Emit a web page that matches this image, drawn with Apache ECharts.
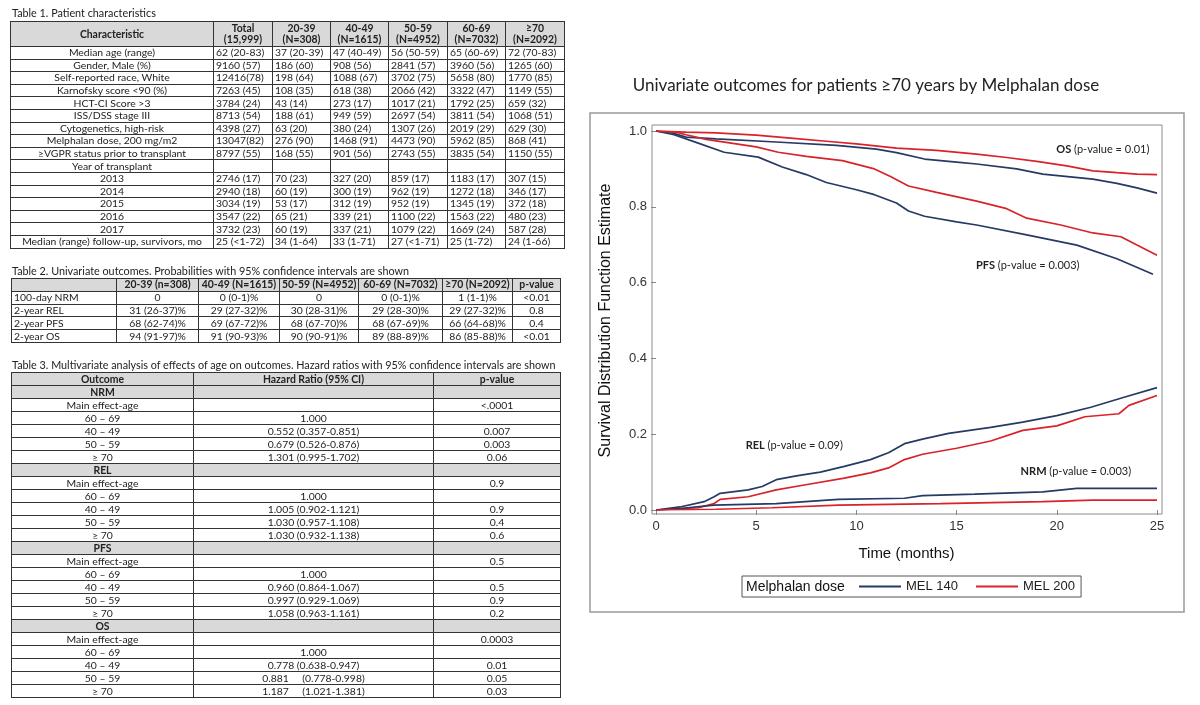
<!DOCTYPE html>
<html>
<head>
<meta charset="utf-8">
<script src="https://cdn.jsdelivr.net/npm/echarts@6/dist/echarts.min.js"></script>
<style>
  html, body { margin: 0; padding: 0; background: #fff; }
  #chart { position: absolute; left: 0; top: 0; width: 1200px; height: 705px; }
  .cap { position: absolute; left: 12px; font: 10.8px Lato, sans-serif; color: #222; white-space: nowrap; z-index: 2; }
  table { position: absolute; border-collapse: collapse; table-layout: fixed; font: 10.4px Lato, sans-serif; color: #222; z-index: 2; background: #fff; }
  td { border: 1px solid #333; padding: 0 2px; line-height: 11px; white-space: pre; overflow: hidden; text-align: center; }
  td.l { text-align: left; }
  tr.g td { background: #d9d9d9; font-weight: bold; }
  #t1 td { height: 11.6px; }
  #t1 tr.g td { height: 24px; }
  #t2 td { height: 11.8px; }
  #t3 td { height: 12px; }
</style>
</head>
<body>
<div id="chart"></div>
<div class="cap" style="top:6px">Table 1. Patient characteristics</div>
<table id="t1" style="left:10px;top:21px;width:554px"></table>
<div class="cap" style="top:264px">Table 2. Univariate outcomes. Probabilities with 95% confidence intervals are shown</div>
<table id="t2" style="left:11px;top:278px;width:549px"></table>
<div class="cap" style="top:358px">Table 3. Multivariate analysis of effects of age on outcomes. Hazard ratios with 95% confidence intervals are shown</div>
<table id="t3" style="left:11px;top:372px;width:549px"></table>
<script>
// ---- tables ----
const t1Widths = [203, 59, 58, 58, 59, 58, 59];
const t1Head = ['Characteristic', 'Total\n(15,999)', '20-39\n(N=308)', '40-49\n(N=1615)', '50-59\n(N=4952)', '60-69\n(N=7032)', '≥70\n(N=2092)'];
const t1Rows = [
  ['Median age (range)', '62 (20-83)', '37 (20-39)', '47 (40-49)', '56 (50-59)', '65 (60-69)', '72 (70-83)'],
  ['Gender, Male (%)', '9160 (57)', '186 (60)', '908 (56)', '2841 (57)', '3960 (56)', '1265 (60)'],
  ['Self-reported race, White', '12416(78)', '198 (64)', '1088 (67)', '3702 (75)', '5658 (80)', '1770 (85)'],
  ['Karnofsky score <90 (%)', '7263 (45)', '108 (35)', '618 (38)', '2066 (42)', '3322 (47)', '1149 (55)'],
  ['HCT-CI Score >3', '3784 (24)', '43 (14)', '273 (17)', '1017 (21)', '1792 (25)', '659 (32)'],
  ['ISS/DSS stage III', '8713 (54)', '188 (61)', '949 (59)', '2697 (54)', '3811 (54)', '1068 (51)'],
  ['Cytogenetics, high-risk', '4398 (27)', '63 (20)', '380 (24)', '1307 (26)', '2019 (29)', '629 (30)'],
  ['Melphalan dose, 200 mg/m2', '13047(82)', '276 (90)', '1468 (91)', '4473 (90)', '5962 (85)', '868 (41)'],
  ['≥VGPR status prior to transplant', '8797 (55)', '168 (55)', '901 (56)', '2743 (55)', '3835 (54)', '1150 (55)'],
  ['Year of transplant', '', '', '', '', '', ''],
  ['2013', '2746 (17)', '70 (23)', '327 (20)', '859 (17)', '1183 (17)', '307 (15)'],
  ['2014', '2940 (18)', '60 (19)', '300 (19)', '962 (19)', '1272 (18)', '346 (17)'],
  ['2015', '3034 (19)', '53 (17)', '312 (19)', '952 (19)', '1345 (19)', '372 (18)'],
  ['2016', '3547 (22)', '65 (21)', '339 (21)', '1100 (22)', '1563 (22)', '480 (23)'],
  ['2017', '3732 (23)', '60 (19)', '337 (21)', '1079 (22)', '1669 (24)', '587 (28)'],
  ['Median (range) follow-up, survivors, mo', '25 (<1-72)', '34 (1-64)', '33 (1-71)', '27 (<1-71)', '25 (1-72)', '24 (1-66)']
];

const t2Widths = [105, 82, 81, 79, 84, 70, 48];
const t2Head = ['', '20-39 (n=308)', '40-49 (N=1615)', '50-59 (N=4952)', '60-69 (N=7032)', '≥70 (N=2092)', 'p-value'];
const t2Rows = [
  ['100-day NRM', '0', '0 (0-1)%', '0', '0 (0-1)%', '1 (1-1)%', '<0.01'],
  ['2-year REL', '31 (26-37)%', '29 (27-32)%', '30 (28-31)%', '29 (28-30)%', '29 (27-32)%', '0.8'],
  ['2-year PFS', '68 (62-74)%', '69 (67-72)%', '68 (67-70)%', '68 (67-69)%', '66 (64-68)%', '0.4'],
  ['2-year OS', '94 (91-97)%', '91 (90-93)%', '90 (90-91)%', '89 (88-89)%', '86 (85-88)%', '<0.01']
];

const t3Widths = [182, 240, 127];
const t3Head = ['Outcome', 'Hazard Ratio (95% CI)', 'p-value'];
const t3Groups = ['NRM', 'REL', 'PFS', 'OS'];
const t3Levels = ['Main effect-age', '60 – 69', '40 – 49', '50 – 59', '≥ 70'];
const t3Hr = [
  ['', '1.000', '0.552 (0.357-0.851)', '0.679 (0.526-0.876)', '1.301 (0.995-1.702)'],
  ['', '1.000', '1.005 (0.902-1.121)', '1.030 (0.957-1.108)', '1.030 (0.932-1.138)'],
  ['', '1.000', '0.960 (0.864-1.067)', '0.997 (0.929-1.069)', '1.058 (0.963-1.161)'],
  ['', '1.000', '0.778 (0.638-0.947)', '0.881     (0.778-0.998)', '1.187     (1.021-1.381)']
];
const t3P = [
  ['<.0001', '', '0.007', '0.003', '0.06'],
  ['0.9', '', '0.9', '0.4', '0.6'],
  ['0.5', '', '0.5', '0.9', '0.2'],
  ['0.0003', '', '0.01', '0.05', '0.03']
];

function colgroup(tbl, widths) {
  const cg = document.createElement('colgroup');
  widths.forEach(w => { const c = document.createElement('col'); c.style.width = w + 'px'; cg.appendChild(c); });
  tbl.appendChild(cg);
}
function addRow(tbl, cells, cls, aligns) {
  const tr = document.createElement('tr');
  if (cls) tr.className = cls;
  cells.forEach((txt, i) => {
    const td = document.createElement('td');
    td.textContent = txt;
    if (aligns && aligns[i]) td.className = aligns[i];
    tr.appendChild(td);
  });
  tbl.appendChild(tr);
}

const t1 = document.getElementById('t1');
colgroup(t1, t1Widths);
addRow(t1, t1Head, 'g');
t1Rows.forEach(r => addRow(t1, r, '', ['', 'l', 'l', 'l', 'l', 'l', 'l']));

const t2 = document.getElementById('t2');
colgroup(t2, t2Widths);
addRow(t2, t2Head, 'g');
t2Rows.forEach(r => addRow(t2, r, '', ['l']));

const t3 = document.getElementById('t3');
colgroup(t3, t3Widths);
addRow(t3, t3Head, 'g');
t3Groups.forEach((g, gi) => {
  addRow(t3, [g, '', ''], 'g');
  t3Levels.forEach((lv, li) => addRow(t3, [lv, t3Hr[gi][li], t3P[gi][li]]));
});

// ---- chart data: [months, estimate] ----
const osMel140 = [[0,1],[0.8,0.995],[1.5,0.984],[3,0.979],[6,0.971],[9,0.962],[11,0.952],[12,0.943],[13.4,0.926],[15,0.918],[16,0.913],[18,0.9],[19.3,0.886],[21.8,0.873],[23,0.862],[24,0.85],[25,0.836]];
const osMel200 = [[0,1],[1.5,0.997],[3,0.995],[5,0.989],[7,0.98],[8.5,0.973],[10,0.966],[12,0.955],[14,0.949],[16,0.939],[17.5,0.93],[19,0.92],[20.5,0.908],[21.8,0.895],[23,0.89],[24,0.886],[25,0.885]];
const pfsMel140 = [[0,1],[0.9,0.99],[2,0.97],[3.4,0.944],[5.1,0.931],[6.3,0.905],[7.5,0.885],[8.5,0.864],[10,0.845],[10.9,0.832],[12,0.81],[12.6,0.789],[13.4,0.775],[15,0.76],[16,0.752],[18.5,0.726],[21,0.699],[23,0.663],[24.8,0.622]];
const pfsMel200 = [[0,1],[1,0.997],[1.5,0.99],[2.5,0.978],[3.5,0.97],[5,0.958],[6.1,0.944],[7.5,0.933],[9.3,0.922],[10.9,0.9],[11.7,0.88],[12.6,0.855],[14,0.838],[16,0.815],[17.5,0.795],[18.5,0.77],[20.2,0.752],[21.8,0.731],[23.2,0.721],[24,0.699],[25,0.672]];
const relMel140 = [[0,0],[1.2,0.008],[2.4,0.022],[2.9,0.035],[3.2,0.044],[4.6,0.053],[5.3,0.062],[6,0.08],[7,0.09],[8.2,0.1],[9.4,0.115],[10.7,0.133],[11.6,0.151],[12.4,0.175],[13.3,0.187],[14.6,0.202],[16.7,0.218],[18.3,0.232],[20,0.249],[21.7,0.271],[23.4,0.298],[25,0.323]];
const relMel200 = [[0,0],[2.1,0.006],[2.9,0.017],[3.2,0.028],[4.6,0.035],[6,0.053],[7.4,0.066],[9.4,0.084],[10.7,0.098],[11.6,0.111],[12.4,0.133],[13.3,0.147],[15,0.163],[16.7,0.182],[18.3,0.21],[20,0.222],[21.4,0.246],[23.1,0.254],[23.6,0.276],[25,0.302]];
const nrmMel140 = [[0,0],[1.2,0.004],[2.9,0.013],[6,0.017],[9.1,0.028],[12.4,0.031],[13.3,0.038],[15.9,0.042],[19.3,0.048],[21,0.057],[25,0.057]];
const nrmMel200 = [[0,0],[3,0.002],[5.8,0.006],[9.1,0.013],[14.2,0.017],[19.3,0.022],[21.8,0.026],[25,0.026]];

const xTicks = [0, 5, 10, 15, 20, 25];
const yTicks = [0, 0.2, 0.4, 0.6, 0.8, 1.0];

// curve labels: [bold part, rest, months, estimate]
const curveNotes = [
  ['OS', ' (p-value = 0.01)', 22.3, 0.952],
  ['PFS', ' (p-value = 0.003)', 18.55, 0.646],
  ['REL', ' (p-value = 0.09)', 6.9, 0.169],
  ['NRM', ' (p-value = 0.003)', 20.95, 0.102]
];

const blue = '#253a64';
const red = '#d9232b';
const axisFont = 'Liberation Sans';

function line(name, data, color, note) {
  const s = {
    name: name,
    type: 'line',
    data: data,
    showSymbol: false,
    symbol: 'none',
    color: color,
    lineStyle: { width: 1.7, color: color },
    silent: true
  };
  if (note) {
    s.markPoint = {
      symbol: 'circle',
      symbolSize: 1,
      itemStyle: { color: 'rgba(0,0,0,0)' },
      label: {
        show: true,
        position: 'inside',
        formatter: '{b|' + note[0] + '}' + note[1],
        fontFamily: 'Lato',
        fontSize: 11,
        color: '#222',
        rich: { b: { fontWeight: 'bold', fontFamily: 'Lato', fontSize: 11, color: '#222' } }
      },
      data: [{ coord: [note[2], note[3]] }]
    };
  }
  return s;
}

const chart = echarts.init(document.getElementById('chart'));
const option = {
  animation: false,
  backgroundColor: 'transparent',
  grid: { left: 656, right: 43, top: 131, bottom: 195, containLabel: false },
  legend: {
    data: ['MEL 140', 'MEL 200'],
    left: 742,
    top: 576,
    orient: 'horizontal',
    icon: 'rect',
    itemWidth: 42,
    itemHeight: 2,
    itemGap: 18,
    padding: [4, 6, 4, 117],
    borderColor: '#555',
    borderWidth: 1,
    textStyle: { fontFamily: axisFont, fontSize: 13, color: '#222' },
    selectedMode: false
  },
  xAxis: {
    type: 'value',
    min: 0,
    max: 25,
    interval: 5,
    offset: 4,
    name: 'Time (months)',
    nameLocation: 'middle',
    nameGap: 32,
    nameTextStyle: { fontFamily: axisFont, fontSize: 15, color: '#111' },
    axisLine: { show: false },
    axisTick: { show: true, length: 5, lineStyle: { color: '#888' } },
    axisLabel: { fontFamily: axisFont, fontSize: 13, color: '#333', margin: 6, formatter: v => xTicks.includes(v) ? String(v) : '' },
    splitLine: { show: false }
  },
  yAxis: {
    type: 'value',
    min: 0,
    max: 1,
    interval: 0.2,
    offset: 4,
    name: 'Survival Distribution Function Estimate',
    nameLocation: 'middle',
    nameRotate: 90,
    nameGap: 38,
    nameTextStyle: { fontFamily: axisFont, fontSize: 16, color: '#111' },
    axisLine: { show: false },
    axisTick: { show: true, length: 5, lineStyle: { color: '#888' } },
    axisLabel: { fontFamily: axisFont, fontSize: 13, color: '#333', margin: 5, formatter: v => yTicks.some(t => Math.abs(t - v) < 1e-6) ? v.toFixed(1) : '' },
    splitLine: { show: false }
  },
  series: [
    line('MEL 140', osMel140, blue, null),
    line('MEL 200', osMel200, red, curveNotes[0]),
    line('MEL 140', pfsMel140, blue, curveNotes[1]),
    line('MEL 200', pfsMel200, red, null),
    line('MEL 140', relMel140, blue, curveNotes[2]),
    line('MEL 200', relMel200, red, null),
    line('MEL 140', nrmMel140, blue, curveNotes[3]),
    line('MEL 200', nrmMel200, red, null)
  ],
  graphic: [
    {
      type: 'rect', z: -1, silent: true,
      shape: { x: 590, y: 113, width: 594, height: 499 },
      style: { fill: '#fff', stroke: '#999', lineWidth: 1.5 }
    },
    {
      type: 'rect', z: 0, silent: true,
      shape: { x: 652, y: 125, width: 510, height: 389 },
      style: { fill: 'none', stroke: '#8c8c8c', lineWidth: 1 }
    },
    {
      type: 'text', silent: true,
      x: 866, y: 86,
      style: { text: 'Univariate outcomes for patients ≥70 years by Melphalan dose', align: 'center', verticalAlign: 'middle', fontFamily: 'Lato', fontSize: 17, fill: '#222' }
    },
    {
      type: 'text', silent: true, z: 10,
      x: 746, y: 587,
      style: { text: 'Melphalan dose', align: 'left', verticalAlign: 'middle', fontFamily: axisFont, fontSize: 14, fill: '#111' }
    }
  ]
};
chart.setOption(option);
</script>
</body>
</html>
